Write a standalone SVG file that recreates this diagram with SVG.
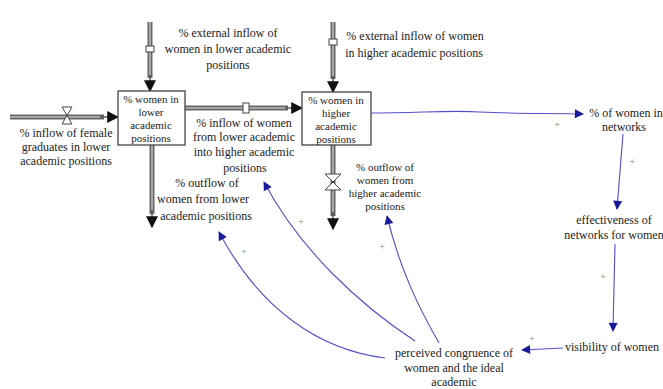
<svg xmlns="http://www.w3.org/2000/svg" width="663" height="389" viewBox="0 0 663 389" font-family="Liberation Serif, DejaVu Serif, Times New Roman, serif">
<defs>
<style>
text{font-size:12px;fill:#222;text-anchor:middle}
.sm{font-size:11px}
.pipe{stroke:#666;stroke-width:5;fill:none}
.pin{stroke:#bbb;stroke-width:1.6;fill:none}
.link{stroke:#5050cc;stroke-width:1.1;fill:none}
.box{fill:#fff;stroke:#444;stroke-width:1.3}
.valve{fill:#fff;stroke:#444;stroke-width:1}
.sign{font-size:10px;fill:#888}
</style>
<marker id="fa" viewBox="0 0 10 10" refX="9" refY="5" markerWidth="12" markerHeight="12" markerUnits="userSpaceOnUse" orient="auto"><path d="M0,0 L10,5 L0,10 z" fill="#111"/></marker>
<marker id="la" viewBox="0 0 10 10" refX="9" refY="5" markerWidth="10" markerHeight="9" markerUnits="userSpaceOnUse" orient="auto"><path d="M0,0 L10,5 L0,10 z" fill="#1a1a9a"/></marker>
</defs>
<rect width="663" height="389" fill="#fff"/>
<g id="connectors">
<line class="pipe" x1="10" y1="117" x2="104" y2="117"/><line class="pin" x1="10" y1="117" x2="104" y2="117"/>
<line x1="100" y1="117" x2="118" y2="117" stroke="#111" stroke-width="1" marker-end="url(#fa)"/>
<line class="pipe" x1="150" y1="22" x2="150" y2="78"/><line class="pin" x1="150" y1="22" x2="150" y2="78"/>
<line x1="150" y1="75" x2="150" y2="91" stroke="#111" stroke-width="1" marker-end="url(#fa)"/>
<line class="pipe" x1="185" y1="108" x2="288" y2="108"/><line class="pin" x1="185" y1="108" x2="288" y2="108"/>
<line x1="285" y1="108" x2="302" y2="108" stroke="#111" stroke-width="1" marker-end="url(#fa)"/>
<line class="pipe" x1="152" y1="145" x2="152" y2="214"/><line class="pin" x1="152" y1="145" x2="152" y2="214"/>
<line x1="152" y1="210" x2="152" y2="227" stroke="#111" stroke-width="1" marker-end="url(#fa)"/>
<line class="pipe" x1="333" y1="22" x2="333" y2="79"/><line class="pin" x1="333" y1="22" x2="333" y2="79"/>
<line x1="333" y1="76" x2="333" y2="92" stroke="#111" stroke-width="1" marker-end="url(#fa)"/>
<line class="pipe" x1="333" y1="145" x2="333" y2="216"/><line class="pin" x1="333" y1="145" x2="333" y2="216"/>
<line x1="333" y1="212" x2="333" y2="229" stroke="#111" stroke-width="1" marker-end="url(#fa)"/>
<path class="valve" d="M62,107 L72,107 L67,115.5 L72,124 L62,124 L67,115.5 z"/>
<rect class="valve" x="146" y="46" width="8" height="6"/>
<rect class="valve" x="243" y="103" width="6" height="10"/>
<rect class="valve" x="329" y="39" width="8" height="6"/>
<path class="valve" d="M325,174 L341,174 L333,182 L341,190 L325,190 L333,182 z"/>
<path class="link" d="M371,113 C420,113 450,110 480,112 C520,114 550,113 583,114" marker-end="url(#la)"/>
<path class="link" d="M623,134 L617,209" marker-end="url(#la)"/>
<path class="link" d="M615,244 L613,331" marker-end="url(#la)"/>
<path class="link" d="M563,348 L522,350" marker-end="url(#la)"/>
<path class="link" d="M385,358 C320,350 260,310 219,232" marker-end="url(#la)"/>
<path class="link" d="M415,341 C360,305 300,250 264,182" marker-end="url(#la)"/>
<path class="link" d="M439,343 C420,310 400,270 387,216" marker-end="url(#la)"/>
<text class="sign" x="557" y="128">+</text>
<text class="sign" x="632" y="165">+</text>
<text class="sign" x="603" y="280">+</text>
<text class="sign" x="532" y="342">+</text>
<text class="sign" x="244" y="255">+</text>
<text class="sign" x="301" y="225">+</text>
<text class="sign" x="382" y="250">+</text>
</g>
<g id="stock-lower">
<rect class="box" x="118" y="91" width="67" height="54"/>
<text class="sm" x="151" y="103">% women in</text>
<text class="sm" x="151" y="116">lower</text>
<text class="sm" x="151" y="129">academic</text>
<text class="sm" x="151" y="142">positions</text>
</g>
<g id="stock-higher">
<rect class="box" x="302" y="92" width="69" height="53"/>
<text class="sm" x="336" y="104">% women in</text>
<text class="sm" x="336" y="117">higher</text>
<text class="sm" x="336" y="130">academic</text>
<text class="sm" x="336" y="143">positions</text>
</g>
<g id="flow-graduates">
<text x="66" y="137">% inflow of female</text>
<text x="66" y="151">graduates in lower</text>
<text x="66" y="165">academic positions</text>
</g>
<g id="flow-external-lower">
<text x="228" y="37">% external inflow of</text>
<text x="228" y="53">women in lower academic</text>
<text x="228" y="69">positions</text>
</g>
<g id="flow-lower-to-higher">
<text x="244" y="127">% inflow of women</text>
<text x="244" y="141">from lower academic</text>
<text x="244" y="156">into higher academic</text>
<text x="245" y="172">positions</text>
</g>
<g id="flow-outflow-lower">
<text x="207" y="187">% outflow of</text>
<text x="203" y="203">women from lower</text>
<text x="206" y="220">academic positions</text>
</g>
<g id="flow-external-higher">
<text x="415" y="40">% external inflow of women</text>
<text x="414" y="57">in higher academic positions</text>
</g>
<g id="flow-outflow-higher">
<text class="sm" x="385" y="171">% outflow of</text>
<text class="sm" x="385" y="184">women from</text>
<text class="sm" x="385" y="197">higher academic</text>
<text class="sm" x="385" y="210">positions</text>
</g>
<g id="women-networks">
<text x="626" y="117">% of women in</text>
<text x="624" y="131">networks</text>
</g>
<g id="effectiveness">
<text x="614" y="224">effectiveness of</text>
<text x="614" y="239">networks for women</text>
</g>
<g id="visibility">
<text x="612" y="351">visibility of women</text>
</g>
<g id="congruence">
<text x="454" y="357">perceived congruence of</text>
<text x="454" y="372">women and the ideal</text>
<text x="454" y="386">academic</text>
</g>
</svg>
